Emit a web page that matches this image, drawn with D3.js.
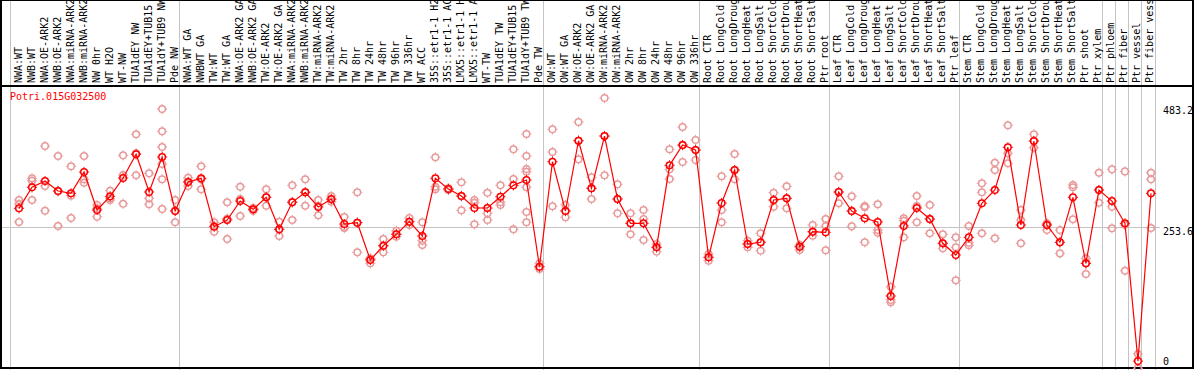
<!DOCTYPE html>
<html lang="en">
<head>
    <meta charset="UTF-8">
    <script src="https://d3js.org/d3.v7.min.js"></script>
    <style>
        body { margin: 0; background: #fff; }
        text { font-family: "DejaVu Sans Mono", monospace; font-size: 10px; }
        .crisp { shape-rendering: crispEdges; }
    </style>
</head>
<body>
<svg width="1194" height="370" id="chart"></svg>
<script>
// Gene shown in the plot
const geneId = "Potri.015G032500";

// Sample names (labels are cut to 14 characters in the header)
const samples = [
    "NWA:WT", "NWB:WT", "NWA:OE-ARK2", "NWB:OE-ARK2", "NWA:miRNA-ARK2", "NWB:miRNA-ARK2", "NW 0hr", "WT H2O", "WT-NW",
    "TUA1dEY NW", "TUA1dEY+TUB15 NW", "TUA1dY+TUB9 NW", "Pde NW",
    "NWA:WT GA", "NWBWT GA", "TW:WT", "TW:WT GA", "NWA:OE-ARK2 GA", "NWB:OE-ARK2 GA", "TW:OE-ARK2", "TW:OE-ARK2 GA",
    "NWA:miRNA-ARK2", "NWB:miRNA-ARK2", "TW:miRNA-ARK2", "TW:miRNA-ARK2 GA", "TW 2hr", "TW 8hr", "TW 24hr", "TW 48hr",
    "TW 96hr", "TW 336hr", "WT ACC", "35S::etr1-1 H2O", "35S::etr1-1 ACC", "LMX5::etr1-1 H2O", "LMX5::etr1-1 ACC",
    "WT-TW", "TUA1dEY TW", "TUA1dEY+TUB15 TW", "TUA1dY+TUB9 TW", "Pde TW",
    "OW:WT", "OW:WT GA", "OW:OE-ARK2", "OW:OE-ARK2 GA", "OW:miRNA-ARK2", "OW:miRNA-ARK2 GA", "OW 2hr", "OW 8hr",
    "OW 24hr", "OW 48hr", "OW 96hr", "OW 336hr",
    "Root CTR", "Root LongCold", "Root LongDrought", "Root LongHeat", "Root LongSalt", "Root ShortCold",
    "Root ShortDrought", "Root ShortHeat", "Root ShortSalt", "Ptr root",
    "Leaf CTR", "Leaf LongCold", "Leaf LongDrought", "Leaf LongHeat", "Leaf LongSalt", "Leaf ShortCold",
    "Leaf ShortDrought", "Leaf ShortHeat", "Leaf ShortSalt", "Ptr leaf",
    "Stem CTR", "Stem LongCold", "Stem LongDrought", "Stem LongHeat", "Stem LongSalt", "Stem ShortCold",
    "Stem ShortDrought", "Stem ShortHeat", "Stem ShortSalt", "Ptr shoot", "Ptr xylem",
    "Ptr phloem", "Ptr fiber", "Ptr vessel", "Ptr fiber vessel"
];

// number of samples in each experiment block
const groupSizes = [13, 28, 12, 10, 10, 11, 1, 1, 1, 1];

// mean expression per sample
const meanValues = [
    290.3, 330.1, 342.0, 323.0, 318.7, 359.0, 287.1, 313.0, 347.7, 392.5, 321.2, 387.4, 285.2,
    340.1, 347.1, 255.5, 268.2, 304.1, 288.4, 311.1, 250.6, 301.7, 320.6, 292.8, 307.9, 260.6, 263.1,
    192.5, 219.5, 241.1, 265.0, 237.9, 347.1, 326.8, 313.6, 290.9, 290.9, 312.3, 333.8, 343.9, 179.8,
    378.5, 285.2, 418.2, 328.2, 427.1, 307.9, 261.9, 261.9, 216.5, 371.7, 410.1, 400.6,
    197.6, 300.3, 362.8, 222.7, 226.0, 306.0, 309.2, 217.6, 246.0, 244.9,
    321.2, 285.2, 271.4, 264.4, 124.3, 256.8, 290.9, 270.1, 224.1, 201.9,
    235.4, 299.8, 324.9, 405.8, 258.7, 417.7, 258.7, 226.0, 311.1, 186.2, 324.9,
    304.1, 261.9, 1.1, 318.7
];

// individual replicates per sample
const replicateValues = [
    [306.0, 298.5, 264.4], [347.1, 342.5, 306.0], [408.2, 332.5, 285.8], [389.3, 323.0, 256.8],
    [369.8, 314.2, 272.0], [389.3, 345.2, 338.8], [296.6, 290.3, 274.4], [323.6, 309.2, 306.0],
    [390.6, 353.3, 299.0], [430.4, 394.2, 352.8], [356.5, 309.2, 297.9],
    [478.2, 436.0, 406.3, 374.1, 345.2, 289.0], [306.0, 285.8, 263.8],
    [348.2, 340.1, 332.5], [369.8, 345.0, 326.3], [263.8, 256.8, 246.0], [301.7, 270.6, 232.2],
    [331.2, 307.9, 275.7], [291.0, 288.4, 285.8], [326.3, 311.7, 295.2], [265.0, 250.6, 237.9],
    [333.8, 302.2, 268.2], [345.2, 321.2, 295.2], [306.0, 294.7, 277.1], [313.6, 307.0, 302.8],
    [273.8, 254.9, 253.0], [320.6, 263.1, 207.0], [195.7, 194.4, 186.2], [232.2, 219.0, 207.0],
    [247.9, 241.7, 236.6], [272.0, 264.4, 258.7], [263.8, 229.0, 220.9], [386.9, 331.2, 326.3],
    [328.2, 326.8, 324.9], [339.5, 313.6, 286.5], [306.0, 300.9, 260.0], [319.8, 280.8, 268.2],
    [333.8, 301.7, 296.6], [402.0, 345.8, 250.6],
    [430.9, 389.3, 364.7, 359.6, 330.1, 283.3, 263.8], [186.2, 179.8, 175.4],
    [439.8, 396.9, 294.1], [296.6, 285.2, 273.3], [453.6, 418.2, 383.0], [348.9, 328.2, 307.9],
    [499.0, 427.1, 352.8], [335.7, 307.9, 280.8], [280.8, 261.9, 241.1], [287.1, 270.1, 230.3],
    [222.7, 216.5, 208.2], [402.0, 364.1, 345.8], [444.2, 410.1, 377.9], [419.6, 400.6, 381.7],
    [203.8, 197.6, 191.1], [350.9, 287.1, 263.8], [393.1, 362.8, 345.2], [229.0, 222.7, 216.5],
    [243.0, 226.0, 210.1], [319.8, 306.0, 293.3], [331.9, 309.2, 290.3], [220.9, 217.6, 211.4],
    [258.7, 246.0, 238.5], [270.1, 256.8, 210.8],
    [350.9, 321.2, 299.8], [313.0, 285.2, 256.2], [294.7, 292.2, 226.0], [297.9, 249.2, 244.1],
    [141.9, 116.8, 112.4], [271.4, 266.8, 235.4], [313.6, 294.7, 263.8], [296.6, 270.1, 243.0],
    [241.1, 224.1, 214.6], [235.4, 216.5, 154.1],
    [256.8, 225.2, 220.3], [337.6, 320.6, 243.0], [376.6, 362.8, 233.5], [447.4, 394.4, 375.5],
    [287.1, 268.2, 224.1], [430.4, 417.7, 405.0], [261.9, 258.7, 249.2], [249.2, 226.0, 205.1],
    [334.4, 330.1, 269.5], [195.7, 186.2, 166.0], [357.7, 324.9, 300.9],
    [364.1, 293.3, 252.5], [360.2, 259.0, 172.2], [14.6, -12.4], [357.7, 345.2, 253.0]
];

// labels on the right hand side
const axisTicks = [0, 253.6, 483.2];
const midLine = 253.6;

const svg = d3.select("#chart");
const W = 1194, H = 370;
const plotLeft = 10, plotRight = 1155;
const headerBottom = 86;
const pointOffset = 9; // points sit right of the middle of each cell

const xBand = d3.scaleBand()
    .domain(d3.range(samples.length))
    .range([plotLeft, plotRight])
    .paddingInner(0).paddingOuter(0);
const xPos = i => xBand(i) + pointOffset;

const yScale = d3.scaleLinear().domain([0, 483.2]).range([361.7, 106.4]);

// group separators
const starts = [];
let acc = 0;
groupSizes.forEach(n => { starts.push(acc); acc += n; });
starts.push(samples.length);

svg.selectAll("line.sep")
    .data(starts)
    .enter().append("line")
    .attr("class", "sep crisp")
    .attr("x1", d => d < samples.length ? xBand(d) : plotRight)
    .attr("x2", d => d < samples.length ? xBand(d) : plotRight)
    .attr("y1", 0).attr("y2", H)
    .attr("stroke", "#c4c4c4")
    .attr("stroke-width", 1);

// mid value line
svg.append("line")
    .attr("class", "crisp")
    .attr("x1", 1).attr("x2", 1160)
    .attr("y1", yScale(midLine)).attr("y2", yScale(midLine))
    .attr("stroke", "#c4c4c4")
    .attr("stroke-width", 1);

// frame
svg.append("rect")
    .attr("class", "crisp")
    .attr("x", 1).attr("y", 0)
    .attr("width", W - 2).attr("height", H - 2)
    .attr("fill", "none")
    .attr("stroke", "black")
    .attr("stroke-width", 2);

svg.append("line")
    .attr("class", "crisp")
    .attr("x1", 1).attr("x2", W)
    .attr("y1", headerBottom).attr("y2", headerBottom)
    .attr("stroke", "black")
    .attr("stroke-width", 2);

// sample labels
svg.selectAll("text.lab")
    .data(samples)
    .enter().append("text")
    .attr("class", "lab")
    .attr("transform", (d, i) => "translate(" + (xPos(i) + 2.5) + "," + 83 + ") rotate(-90)")
    .attr("fill", "black")
    .text(d => d.slice(0, 14));

// gene id
svg.append("text")
    .attr("x", plotLeft)
    .attr("y", 100)
    .attr("fill", "red")
    .text(geneId);

// right labels
svg.selectAll("text.tick")
    .data(axisTicks)
    .enter().append("text")
    .attr("class", "tick")
    .attr("x", 1163)
    .attr("y", d => Math.min(yScale(d) + 7.5, 365))
    .attr("fill", "black")
    .text(d => d);

// marker: open circle with small ticks
function marker(g, colour) {
    g.append("circle")
        .attr("r", 3.3)
        .attr("fill", "none")
        .attr("stroke", colour)
        .attr("stroke-width", 1.5);
    g.append("path")
        .attr("d", "M-3.7,0h-1.4M3.7,0h1.4M0,-3.7v-1.4M0,3.7v1.4")
        .attr("stroke", colour)
        .attr("stroke-width", 1);
}

// replicates
const reps = [];
replicateValues.forEach((arr, i) => arr.forEach(v => reps.push({ i: i, v: v })));

svg.selectAll("g.rep")
    .data(reps)
    .enter().append("g")
    .attr("class", "rep")
    .attr("transform", d => "translate(" + xPos(d.i) + "," + yScale(d.v) + ")")
    .each(function() { marker(d3.select(this), "#e89a9a"); });

// mean line
const line = d3.line()
    .x((d, i) => xPos(i))
    .y(d => yScale(d));

svg.append("path")
    .datum(meanValues)
    .attr("d", line)
    .attr("fill", "none")
    .attr("stroke", "red")
    .attr("stroke-width", 1.2);

svg.selectAll("g.mean")
    .data(meanValues)
    .enter().append("g")
    .attr("class", "mean")
    .attr("transform", (d, i) => "translate(" + xPos(i) + "," + yScale(d) + ")")
    .each(function() { marker(d3.select(this), "red"); });
</script>
</body>
</html>
